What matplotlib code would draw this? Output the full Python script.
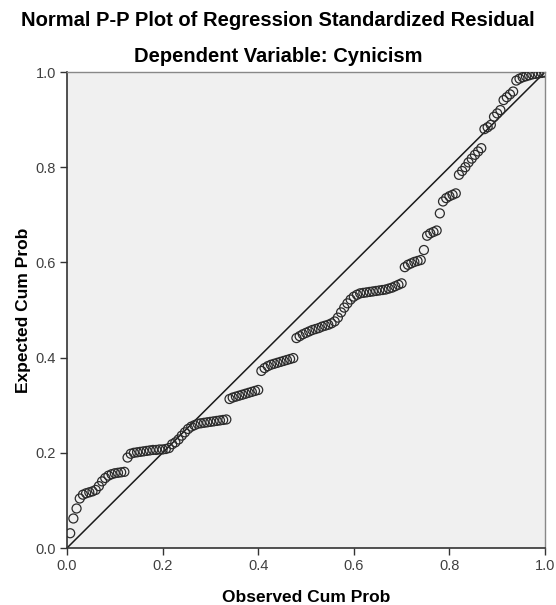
import numpy as np
import matplotlib.pyplot as plt

# expected cum prob for each case, sorted by observed rank
expected = [
    0.031, 0.062, 0.083, 0.104, 0.112, 0.115, 0.117, 0.119, 0.122, 0.130,
    0.140, 0.147, 0.152, 0.155, 0.157, 0.158, 0.159, 0.160, 0.190, 0.198,
    0.200, 0.201, 0.202, 0.203, 0.204, 0.205, 0.206, 0.206, 0.207, 0.207,
    0.208, 0.210, 0.218, 0.222, 0.228, 0.236, 0.243, 0.250, 0.255, 0.258,
    0.261, 0.262, 0.263, 0.264, 0.265, 0.266, 0.267, 0.268, 0.269, 0.270,
    0.313, 0.316, 0.318, 0.320, 0.322, 0.324, 0.326, 0.328, 0.330, 0.332,
    0.372, 0.378, 0.382, 0.385, 0.387, 0.389, 0.391, 0.393, 0.395, 0.397,
    0.399, 0.441, 0.445, 0.449, 0.452, 0.455, 0.458, 0.460, 0.462, 0.465,
    0.467, 0.469, 0.472, 0.476, 0.484, 0.495, 0.505, 0.514, 0.522, 0.528,
    0.532, 0.535, 0.536, 0.537, 0.538, 0.539, 0.540, 0.541, 0.542, 0.543,
    0.545, 0.547, 0.550, 0.553, 0.556, 0.590, 0.595, 0.598, 0.601, 0.603,
    0.605, 0.626, 0.656, 0.661, 0.664, 0.667, 0.703, 0.728, 0.735, 0.739,
    0.742, 0.745, 0.784, 0.792, 0.800, 0.810, 0.818, 0.826, 0.833, 0.840,
    0.880, 0.884, 0.889, 0.906, 0.913, 0.920, 0.941, 0.947, 0.953, 0.959,
    0.982, 0.986, 0.989, 0.991, 0.993, 0.995, 0.996, 0.997, 0.998, 0.999,
]
n_cases = len(expected)
# observed cum prob = rank / n
observed = np.arange(1, n_cases + 1) / n_cases

ticks = [0.0, 0.2, 0.4, 0.6, 0.8, 1.0]
tick_labels = ['0.0', '0.2', '0.4', '0.6', '0.8', '1.0']

plt.rcParams['font.family'] = ['Liberation Sans', 'DejaVu Sans']

fig = plt.figure(figsize=(5.56, 6.05), dpi=100)
ax = fig.add_axes([67 / 556, 57 / 605, 478 / 556, 476 / 605])
ax.set_facecolor('#f0f0f0')

ax.plot([0, 1], [0, 1], color='#1a1a1a', linewidth=1.1, zorder=2)
ax.scatter(observed, expected, s=42, facecolors='none', edgecolors='#2b2b2b',
           linewidths=0.9, zorder=3)

ax.set_xlim(0, 1)
ax.set_ylim(0, 1)
ax.set_xticks(ticks)
ax.set_xticklabels(tick_labels)
ax.set_yticks(ticks)
ax.set_yticklabels(tick_labels)
ax.tick_params(direction='out', length=5, width=1, color='#333333',
               labelsize=10.5, labelcolor='#404040', pad=3)

for side in ['left', 'bottom']:
    ax.spines[side].set_color('#333333')
    ax.spines[side].set_linewidth(1.2)
for side in ['top', 'right']:
    ax.spines[side].set_color('#888888')
    ax.spines[side].set_linewidth(1.0)

ax.set_xlabel('Observed Cum Prob', fontsize=12.5, fontweight='bold', labelpad=12)
ax.set_ylabel('Expected Cum Prob', fontsize=12.5, fontweight='bold', labelpad=3)

fig.text(0.5, 1 - 20 / 605, 'Normal P-P Plot of Regression Standardized Residual',
         ha='center', va='center', fontsize=14.5, fontweight='bold')
fig.text(0.5, 1 - 57 / 605, 'Dependent Variable: Cynicism',
         ha='center', va='center', fontsize=14.5, fontweight='bold')

fig.savefig('out.png', dpi=100, facecolor='white')
